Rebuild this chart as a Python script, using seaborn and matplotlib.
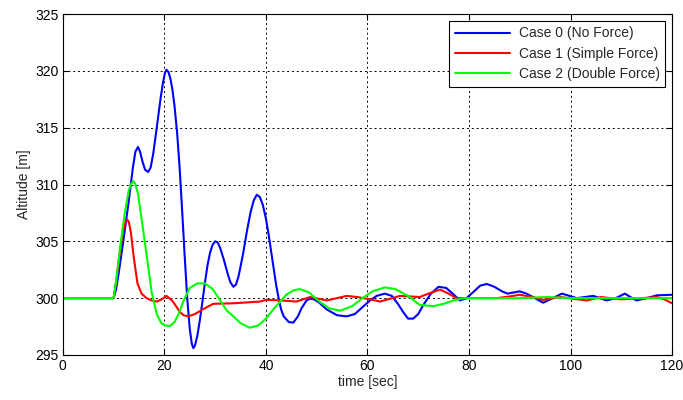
import matplotlib
matplotlib.use("Agg")
import matplotlib.pyplot as plt
import seaborn as sns
import pandas as pd

# Case 0 (No Force)
t0 = [0, 10, 10.5, 11, 12, 13, 13.8, 14.3, 14.8, 15.2, 15.7, 16.2, 16.8, 17.3, 17.8, 18.5, 19.2, 19.7,
      20.1, 20.4, 20.8, 21.2, 21.6, 22, 22.5, 23, 23.5, 24, 24.5, 25, 25.4, 25.7, 26, 26.5, 27, 27.5,
      28, 28.5, 29, 29.5, 30, 30.5, 31, 31.7, 32.5, 33, 33.6, 34.1, 34.6, 35.5, 36.3, 37, 37.6, 38.2,
      38.8, 39.4, 40, 40.5, 41, 41.5, 42, 42.5, 43, 43.5, 44.5, 45.4, 46.3, 47, 48, 48.7, 49.5, 50.5,
      52, 54, 55.9, 57.5, 59, 60.5, 61.8, 63.4, 64.8, 66, 67, 68, 69, 70, 71, 72.5, 74, 75.5, 76.8,
      78.2, 79.5, 81, 82.2, 83.5, 85, 86.5, 87.6, 88.8, 90, 91.3, 92.6, 94.6, 96.5, 98.3, 99.8, 101.2,
      102.8, 104.5, 105.8, 107.1, 108.9, 110.7, 111.8, 113, 115, 117, 120]
y0 = [300, 300, 300.8, 302.2, 305.3, 308.6, 311.5, 312.9, 313.3, 312.9, 312.0, 311.3, 311.1, 311.5,
      312.7, 315.0, 317.4, 318.9, 319.8, 320.1, 319.9, 319.3, 318.3, 316.9, 314.6, 311.5, 307.7,
      303.7, 300.0, 297.3, 296.0, 295.6, 295.8, 296.7, 298.1, 299.7, 301.4, 302.9, 304.0, 304.7,
      305.0, 304.9, 304.4, 303.4, 302.1, 301.4, 301.0, 301.2, 301.9, 303.9, 306.0, 307.6, 308.6,
      309.1, 308.9, 308.2, 307.0, 305.7, 304.2, 302.7, 301.2, 300.0, 299.0, 298.4, 297.9, 297.85,
      298.4, 299.1, 299.8, 299.95, 299.9, 299.6, 299.0, 298.5, 298.4, 298.6, 299.2, 299.8, 300.2,
      300.4, 300.2, 299.5, 298.8, 298.2, 298.2, 298.6, 299.4, 300.4, 301.0, 300.9, 300.4, 299.8,
      300.0, 300.6, 301.1, 301.25, 301.0, 300.6, 300.4, 300.5, 300.6, 300.4, 300.1, 299.6, 300.0,
      300.4, 300.2, 300.0, 300.1, 300.2, 300.0, 299.8, 300.0, 300.4, 300.1, 299.8, 300.0, 300.25, 300.3]

# Case 1 (Simple Force)
t1 = [0, 10, 10.5, 11.2, 12, 12.4, 12.7, 13.0, 13.4, 14, 14.7, 15.5, 16.5, 17.5, 18.5, 19.5, 20.4,
      21.5, 22.3, 23, 23.8, 24.7, 26, 27.5, 29.6, 33.6, 38.8, 40.1, 43, 46, 48.7, 52, 55.9, 58, 60.5,
      62.5, 66.4, 70.3, 72, 74.3, 76, 77.5, 85.4, 88, 90, 92.5, 94.6, 98, 103.2, 106, 110, 114, 117,
      118.5, 120]
y1 = [300, 300, 301.5, 304, 306.2, 306.8, 306.9, 306.7, 305.8, 303.5, 301.3, 300.4, 300.0, 299.8,
      299.7, 299.9, 300.2, 299.8, 299.3, 298.8, 298.5, 298.4, 298.6, 299.0, 299.5, 299.55, 299.7,
      299.85, 299.8, 299.7, 300.1, 299.8, 300.2, 300.1, 299.9, 299.7, 300.2, 300.1, 300.4, 300.75,
      300.4, 300.0, 300.0, 300.15, 300.3, 300.1, 299.85, 300.1, 299.8, 300.1, 299.9, 300.0, 300.1,
      299.9, 299.55]

# Case 2 (Double Force)
t2 = [0, 10, 10.5, 11.3, 12.2, 13.0, 13.5, 13.9, 14.3, 14.8, 15.5, 16.5, 17.5, 18.5, 19.4, 20.2,
      21.1, 22, 22.8, 23.8, 25, 26.5, 28, 29.5, 31, 32.3, 33.6, 35, 36.8, 38.5, 40, 42, 44, 45.5,
      46.7, 48.5, 50.5, 52.5, 54.6, 57, 59, 61, 63.4, 65.5, 68, 70.3, 73, 75, 76.9, 79, 90, 95.3,
      100, 120]
y2 = [300, 300, 301.5, 304.5, 307.5, 309.5, 310.1, 310.3, 310.0, 309.2, 307.0, 303.8, 300.5, 298.6,
      297.8, 297.6, 297.55, 297.9, 298.6, 299.8, 300.9, 301.3, 301.3, 300.8, 299.8, 298.9, 298.4,
      297.8, 297.4, 297.6, 298.2, 299.3, 300.3, 300.7, 300.8, 300.5, 299.7, 299.1, 298.9, 299.3,
      300.0, 300.6, 300.95, 300.8, 300.2, 299.4, 299.3, 299.5, 299.8, 300.0, 300.0, 300.1, 300.0,
      300.0]

labels = ["Case 0 (No Force)", "Case 1 (Simple Force)", "Case 2 (Double Force)"]
colors = ["#0000ff", "#ff0000", "#00ff00"]
x_ticks = [0, 20, 40, 60, 80, 100, 120]
y_ticks = [295, 300, 305, 310, 315, 320, 325]

sns.set_style("white")
plt.rcParams['font.family'] = ['Liberation Sans', 'DejaVu Sans']

fig = plt.figure(figsize=(6.83, 4.0), dpi=100)
ax = fig.add_axes([0.092, 0.1125, 0.892, 0.8525])

for t, y, lab, c in zip([t0, t1, t2], [y0, y1, y2], labels, colors):
    df = pd.DataFrame({"t": t, "y": y})
    sns.lineplot(data=df, x="t", y="y", ax=ax, color=c, linewidth=1.5, label=lab)

ax.set_xlim(0, 120)
ax.set_ylim(295, 325)
ax.set_xticks(x_ticks)
ax.set_yticks(y_ticks)
ax.grid(True, color="black", linestyle=(0, (2, 3)), linewidth=0.7)
ax.set_axisbelow(True)
for s in ax.spines.values():
    s.set_color("black")
    s.set_linewidth(0.8)
    s.set_visible(True)
ax.tick_params(direction="in", length=4, width=0.8, labelsize=10, colors="black",
               top=True, right=True, bottom=True, left=True, pad=3)
ax.set_xlabel("time [sec]", fontsize=10, labelpad=1)
ax.set_ylabel("Altitude [m]", fontsize=10, labelpad=3)

leg = ax.legend(loc="upper right", fontsize=10, frameon=True, fancybox=False,
                edgecolor="black", framealpha=1, handlelength=4.0, borderaxespad=0.5,
                labelspacing=0.45, borderpad=0.4, handletextpad=0.6)
leg.get_frame().set_linewidth(0.8)

fig.savefig("out.png", dpi=100, facecolor="white")
